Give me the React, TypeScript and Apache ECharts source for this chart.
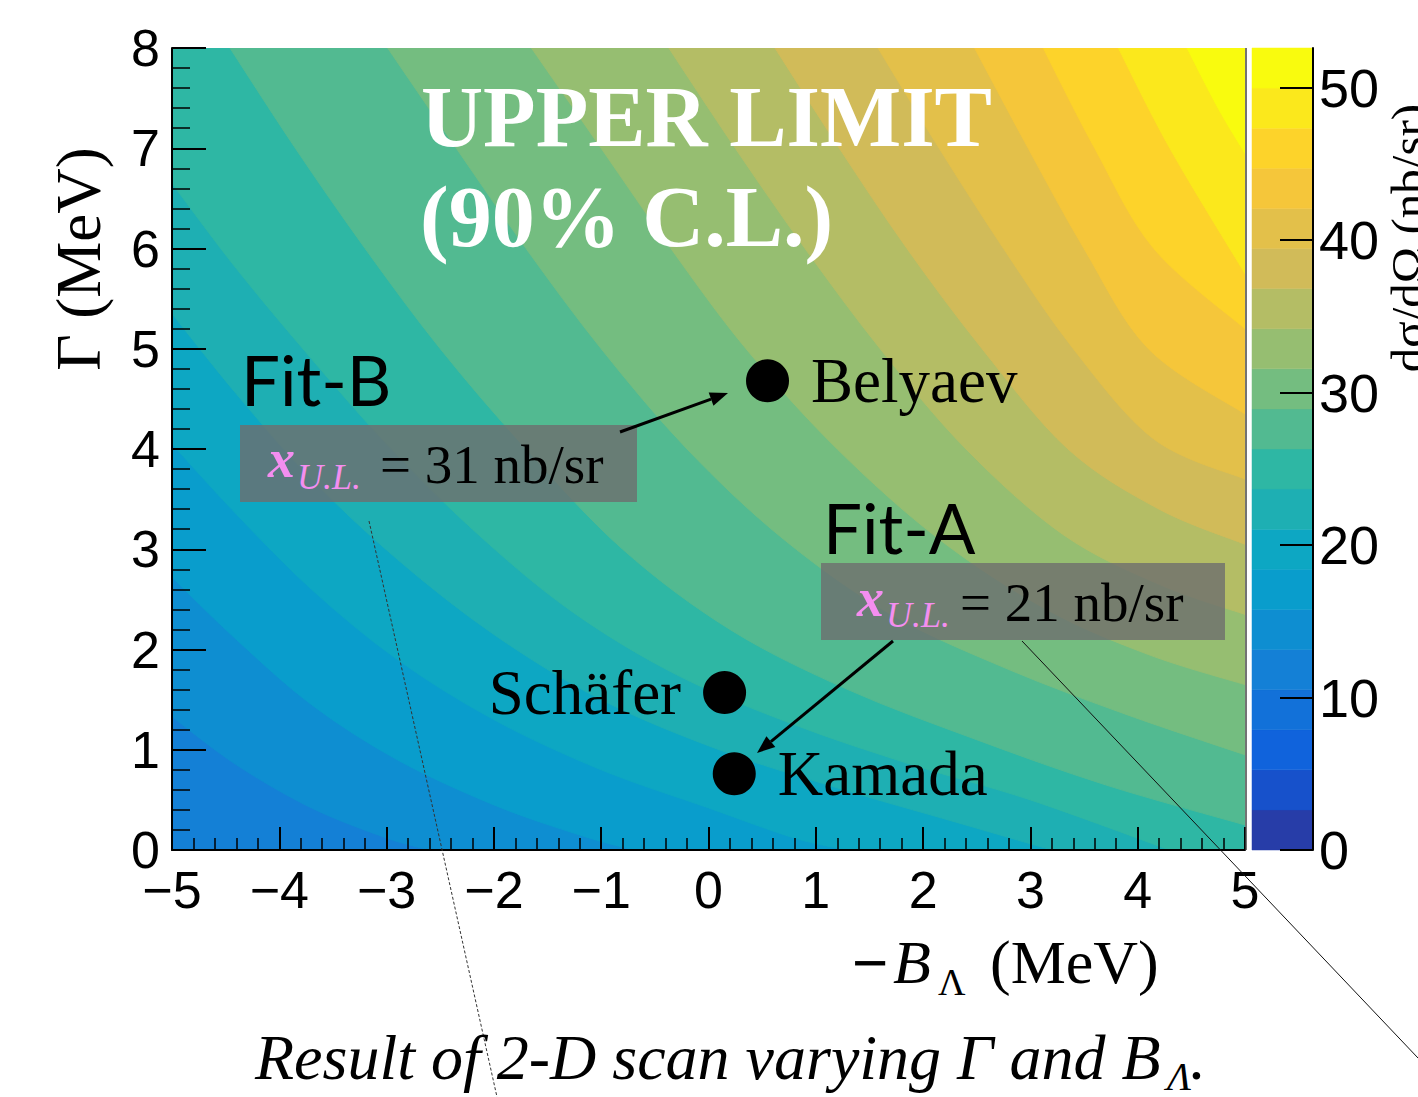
import React, { useEffect, useRef } from "react";
import * as echarts from "echarts";

// ---------------- axes ----------------
const X_MIN = -5;
const X_MAX = 5;
const Y_MIN = 0;
const Y_MAX = 8;
const Z_MAX = 52.6;
const N_LEVELS = 20;
const CBAR_TICKS = [0, 10, 20, 30, 40, 50];

// ---------------- contour boundaries ----------------
// boundary of level index k (z = k * Z_MAX / N_LEVELS)
const BASE_BAND = 4;
const ISO_05 = [[-5, 1.33], [-4.4, 0.85], [-3.7, 0.42], [-3.0, 0.12], [-2.6, 0]];
const ISO_06 = [[-5, 2.72], [-4.4, 2.1], [-3.7, 1.45], [-2.9, 0.9], [-2.0, 0.45], [-1.2, 0.15], [-0.7, 0]];
const ISO_07 = [[-5, 4.05], [-4.4, 3.35], [-3.7, 2.6], [-2.9, 1.9], [-2.0, 1.3], [-1.0, 0.8], [0.0, 0.42], [0.8, 0.12], [1.3, 0]];
const ISO_08 = [[-5, 5.35], [-4.4, 4.55], [-3.7, 3.7], [-2.9, 2.9], [-2.0, 2.15], [-1.0, 1.5], [0.1, 1.0], [1.2, 0.62], [2.3, 0.28], [3.2, 0]];
const ISO_09 = [[-5, 6.65], [-4.4, 5.8], [-3.7, 4.9], [-3.0, 4.05], [-2.2, 3.2], [-1.3, 2.4], [-0.3, 1.75], [0.8, 1.25], [1.9, 0.85], [3.0, 0.5], [4.3, 0]];
const ISO_10 = [[-4.46, 8], [-3.85, 7], [-3.2, 6], [-2.5, 5], [-1.7, 4], [-0.8, 3], [0.2, 2.2], [1.3, 1.6], [2.5, 1.1], [3.7, 0.65], [5, 0.25]];
const ISO_11 = [[-2.99, 8], [-2.35, 7], [-1.7, 6], [-1.0, 5], [-0.2, 4], [0.7, 3.1], [1.7, 2.35], [2.8, 1.8], [3.9, 1.35], [5, 0.95]];
const ISO_12 = [[-1.65, 8], [-1.0, 7], [-0.35, 6], [0.35, 5], [1.2, 4], [2.15, 3.1], [3.15, 2.4], [4.1, 1.95], [5, 1.65]];
const ISO_13 = [[-0.37, 8], [0.25, 7], [0.9, 6], [1.6, 5], [2.4, 4], [3.3, 3.15], [4.2, 2.65], [5, 2.35]];
const ISO_14 = [[0.62, 8], [1.22, 7], [1.85, 6], [2.55, 5], [3.35, 4], [4.2, 3.4], [5, 3.05]];
const ISO_15 = [[1.58, 8], [2.15, 7], [2.75, 6], [3.4, 5], [4.15, 4.1], [5, 3.7]];
const ISO_16 = [[2.48, 8], [2.98, 7], [3.5, 6], [4.1, 5], [5, 4.35]];
const ISO_17 = [[3.12, 8], [3.6, 7], [4.15, 6], [5, 5.2]];
const ISO_18 = [[3.82, 8], [4.3, 7], [5, 5.75]];
const ISO_19 = [[4.46, 8], [4.75, 7.4], [5, 6.95]];

const CONTOURS: { k: number; pts: number[][] | null }[] = [
  { k: BASE_BAND, pts: null },
  { k: 5, pts: ISO_05 },
  { k: 6, pts: ISO_06 },
  { k: 7, pts: ISO_07 },
  { k: 8, pts: ISO_08 },
  { k: 9, pts: ISO_09 },
  { k: 10, pts: ISO_10 },
  { k: 11, pts: ISO_11 },
  { k: 12, pts: ISO_12 },
  { k: 13, pts: ISO_13 },
  { k: 14, pts: ISO_14 },
  { k: 15, pts: ISO_15 },
  { k: 16, pts: ISO_16 },
  { k: 17, pts: ISO_17 },
  { k: 18, pts: ISO_18 },
  { k: 19, pts: ISO_19 },
];

// ---------------- model predictions ----------------
const MODEL_NAMES = ["Belyaev", "Schäfer", "Kamada"];
const MODEL_X = [0.55, 0.15, 0.24];
const MODEL_Y = [4.68, 1.57, 0.76];
const MODEL_LABEL_POS = ["right", "left", "right"];

// ---------------- palette (ROOT kBird) ----------------
const BIRD_STOPS = [0.0, 0.125, 0.25, 0.375, 0.5, 0.625, 0.75, 0.875, 1.0];
const BIRD_R = [0.2082, 0.0592, 0.078, 0.0232, 0.1802, 0.5301, 0.8186, 0.9956, 0.9764];
const BIRD_G = [0.1664, 0.3599, 0.5041, 0.6419, 0.7178, 0.7492, 0.7328, 0.7862, 0.9832];
const BIRD_B = [0.5293, 0.8684, 0.8385, 0.7914, 0.6425, 0.4662, 0.3499, 0.1968, 0.0539];

function bird(f: number): string {
  let i = 0;
  while (i < BIRD_STOPS.length - 2 && f > BIRD_STOPS[i + 1]) i++;
  const t = (f - BIRD_STOPS[i]) / (BIRD_STOPS[i + 1] - BIRD_STOPS[i]);
  const c = (a: number[]) => Math.round(255 * (a[i] + t * (a[i + 1] - a[i])));
  return `rgb(${c(BIRD_R)},${c(BIRD_G)},${c(BIRD_B)})`;
}
function bandColor(k: number): string {
  const idx = Math.floor(((k + 0.99) * 255) / N_LEVELS);
  return bird(Math.min(1, idx / 254));
}

const CBAR_BANDS = Array.from({ length: N_LEVELS }, (_, k) => k);

function contourPath(pts: number[][], api: any): string {
  const P = pts.map((p) => api.coord(p));
  let d = `M${P[0][0]},${P[0][1]}`;
  for (let i = 0; i < P.length - 1; i++) {
    const p0 = P[i - 1] || P[i];
    const p1 = P[i];
    const p2 = P[i + 1];
    const p3 = P[i + 2] || P[i + 1];
    const c1 = [p1[0] + (p2[0] - p0[0]) / 6, p1[1] + (p2[1] - p0[1]) / 6];
    const c2 = [p2[0] - (p3[0] - p1[0]) / 6, p2[1] - (p3[1] - p1[1]) / 6];
    d += ` C${c1[0]},${c1[1]} ${c2[0]},${c2[1]} ${p2[0]},${p2[1]}`;
  }
  const first = pts[0];
  const last = pts[pts.length - 1];
  if (last[1] <= Y_MIN) {
    const c = api.coord([X_MAX, Y_MIN]);
    d += ` L${c[0]},${c[1]}`;
  }
  const tr = api.coord([X_MAX, Y_MAX]);
  d += ` L${tr[0]},${tr[1]}`;
  if (first[0] <= X_MIN) {
    const tl = api.coord([X_MIN, Y_MAX]);
    d += ` L${tl[0]},${tl[1]}`;
  }
  return d + " Z";
}

function arrow(x1: number, y1: number, x2: number, y2: number): any[] {
  const dx = x2 - x1;
  const dy = y2 - y1;
  const L = Math.hypot(dx, dy);
  const ux = dx / L;
  const uy = dy / L;
  const hl = 18;
  const hw = 7;
  const bx = x2 - ux * hl;
  const by = y2 - uy * hl;
  return [
    { type: "line", z: 100, shape: { x1, y1, x2: bx, y2: by }, style: { stroke: "#000", lineWidth: 3 } },
    {
      type: "polygon",
      z: 100,
      shape: { points: [[x2, y2], [bx - uy * hw, by + ux * hw], [bx + uy * hw, by - ux * hw]] },
      style: { fill: "#000" },
    },
  ];
}

const SERIF = '"Liberation Serif", "Times New Roman", serif';
const SANS = '"Liberation Sans", Arial, sans-serif';
const PINK = "#f48ef0";

function txt(text: string, x: number, y: number, size: number, extra: any = {}): any {
  return {
    type: "text",
    z: 100,
    x,
    y,
    rotation: extra.rotation || 0,
    style: {
      text,
      fontSize: size,
      fontFamily: extra.family || SERIF,
      fontWeight: extra.weight || "normal",
      fontStyle: extra.style || "normal",
      fill: extra.fill || "#000",
      align: extra.align || "left",
      verticalAlign: "middle",
    },
  };
}

export default function App() {
  const ref = useRef<HTMLDivElement>(null);
  useEffect(() => {
    const chart = echarts.init(ref.current!, null, { renderer: "svg" });
    const option: any = {
      animation: false,
      backgroundColor: "#ffffff",
      grid: [
        { left: 172, top: 48, width: 1073, height: 802, show: false },
        { left: 1252, top: 48, width: 61, height: 802, show: false },
      ],
      xAxis: [
        {
          type: "value",
          gridIndex: 0,
          min: X_MIN,
          max: X_MAX,
          interval: 1,
          z: 10,
          axisLine: { show: true, onZero: false, lineStyle: { color: "#000", width: 2 } },
          axisTick: { show: true, inside: true, length: 23, lineStyle: { color: "#000", width: 2 } },
          minorTick: { show: true, splitNumber: 5, length: 12, lineStyle: { color: "#000", width: 1.5 } },
          splitLine: { show: false },
          axisLabel: {
            margin: 14,
            fontSize: 52,
            fontFamily: SANS,
            color: "#000",
            formatter: (v: number) => (v < 0 ? "\u2212" + Math.abs(v) : String(v)),
          },
        },
        { type: "value", gridIndex: 1, min: 0, max: 1, show: false },
      ],
      yAxis: [
        {
          type: "value",
          gridIndex: 0,
          min: Y_MIN,
          max: Y_MAX,
          interval: 1,
          z: 10,
          axisLine: { show: true, onZero: false, lineStyle: { color: "#000", width: 2 } },
          axisTick: { show: true, inside: true, length: 34, lineStyle: { color: "#000", width: 2 } },
          minorTick: { show: true, splitNumber: 5, length: 18, lineStyle: { color: "#000", width: 1.5 } },
          splitLine: { show: false },
          axisLabel: { margin: 12, fontSize: 52, fontFamily: SANS, color: "#000" },
        },
        {
          type: "value",
          gridIndex: 1,
          position: "right",
          min: 0,
          max: Z_MAX,
          interval: 10,
          z: 10,
          axisLine: { show: true, onZero: false, lineStyle: { color: "#000", width: 2 } },
          axisTick: { show: true, inside: true, length: 33, customValues: CBAR_TICKS, lineStyle: { color: "#000", width: 2 } },
          splitLine: { show: false },
          axisLabel: { margin: 6, fontSize: 54, fontFamily: SANS, color: "#000", customValues: CBAR_TICKS },
        },
      ],
      series: [
        {
          type: "custom",
          name: "contours",
          xAxisIndex: 0,
          yAxisIndex: 0,
          clip: true,
          silent: true,
          z: 1,
          data: CONTOURS.map((c, i) => [0, 0, i]),
          renderItem: (params: any, api: any) => {
            const c = CONTOURS[params.dataIndex];
            const color = bandColor(c.k);
            if (!c.pts) {
              const a = api.coord([X_MIN, Y_MAX]);
              const b = api.coord([X_MAX, Y_MIN]);
              return {
                type: "rect",
                z2: params.dataIndex,
                shape: { x: a[0], y: a[1], width: b[0] - a[0], height: b[1] - a[1] },
                style: { fill: color },
              };
            }
            return {
              type: "path",
              z2: params.dataIndex,
              shape: { pathData: contourPath(c.pts, api) },
              style: { fill: color, stroke: color, lineWidth: 1 },
            };
          },
        },
        {
          type: "custom",
          name: "colorbar",
          xAxisIndex: 1,
          yAxisIndex: 1,
          silent: true,
          data: CBAR_BANDS.map((k) => [(k * Z_MAX) / N_LEVELS, ((k + 1) * Z_MAX) / N_LEVELS, k]),
          renderItem: (params: any, api: any) => {
            const lo = api.value(0);
            const hi = api.value(1);
            const k = api.value(2);
            const p1 = api.coord([0, lo]);
            const p2 = api.coord([1, hi]);
            const color = bandColor(k);
            return {
              type: "rect",
              shape: { x: p1[0], y: p2[1], width: p2[0] - p1[0], height: p1[1] - p2[1] },
              style: { fill: color, stroke: color, lineWidth: 0.5 },
            };
          },
        },
        {
          type: "scatter",
          name: "models",
          xAxisIndex: 0,
          yAxisIndex: 0,
          z: 5,
          symbol: "circle",
          symbolSize: 43,
          itemStyle: { color: "#000", opacity: 1 },
          label: {
            show: true,
            formatter: "{b}",
            fontFamily: SERIF,
            fontSize: 63,
            color: "#000",
            opacity: 1,
            distance: 22,
          },
          data: MODEL_NAMES.map((n, i) => ({
            name: n,
            value: [MODEL_X[i], MODEL_Y[i]],
            label: { position: MODEL_LABEL_POS[i] },
          })),
        },
      ],
      graphic: [
        // right frame line of the plot
        { type: "line", z: 100, shape: { x1: 1246, y1: 48, x2: 1246, y2: 850 }, style: { stroke: "#444", lineWidth: 1.5 } },
        // title overlay
        txt("UPPER LIMIT", 421, 117, 86, { weight: "bold", fill: "#fff" }),
        txt("(90% C.L.)", 420, 217, 86, { weight: "bold", fill: "#fff" }),
        // Fit-B
        txt("Fit-B", 241, 379, 69, { family: "Lato, 'Open Sans', sans-serif" }),
        { type: "rect", z: 100, shape: { x: 240, y: 425, width: 397, height: 77 }, style: { fill: "rgba(110,110,110,0.8)" } },
        txt("x", 268, 459, 54, { style: "italic", weight: "bold", fill: PINK }),
        txt("U.L.", 297, 477, 36, { style: "italic", fill: PINK }),
        txt("= 31 nb/sr", 380, 464, 55),
        ...arrow(620, 432, 728, 393),
        // Fit-A
        txt("Fit-A", 823, 527, 69, { family: "Lato, 'Open Sans', sans-serif" }),
        { type: "rect", z: 100, shape: { x: 821, y: 563, width: 404, height: 77 }, style: { fill: "rgba(110,110,110,0.8)" } },
        txt("x", 857, 598, 54, { style: "italic", weight: "bold", fill: PINK }),
        txt("U.L.", 886, 615, 36, { style: "italic", fill: PINK }),
        txt("= 21 nb/sr", 960, 602, 55),
        ...arrow(893, 641, 757, 753),
        // callout lines
        { type: "line", z: 100, shape: { x1: 369, y1: 521, x2: 497, y2: 1097 }, style: { stroke: "#333", lineWidth: 1, lineDash: [3, 2] } },
        { type: "line", z: 100, shape: { x1: 1022, y1: 641, x2: 1418, y2: 1058 }, style: { stroke: "#111", lineWidth: 1 } },
        // axis titles
        txt("\u0393 (MeV)", 79, 259, 63, { rotation: Math.PI / 2, align: "center" }),
        txt("\u2212", 852, 962, 62, { family: SANS }),
        txt("B", 893, 962, 62, { style: "italic" }),
        txt("\u039b", 938, 982, 38),
        txt("(MeV)", 990, 962, 62),
        // colorbar title
        txt("d\u03c3/d\u03a9 (nb/sr)", 1408, 238, 49, { rotation: Math.PI / 2, align: "center" }),
        // caption
        txt("Result of 2-D scan varying \u0393 and B", 255, 1057, 64, { style: "italic" }),
        txt("\u039b", 1167, 1076, 40, { style: "italic" }),
        txt(".", 1190, 1057, 64, { style: "italic" }),
      ],
    };
    chart.setOption(option);
    return () => chart.dispose();
  }, []);
  return (
    <div
      ref={ref}
      style={{ position: "fixed", left: 0, top: 0, width: 1418, height: 1097, background: "#fff" }}
    />
  );
}
